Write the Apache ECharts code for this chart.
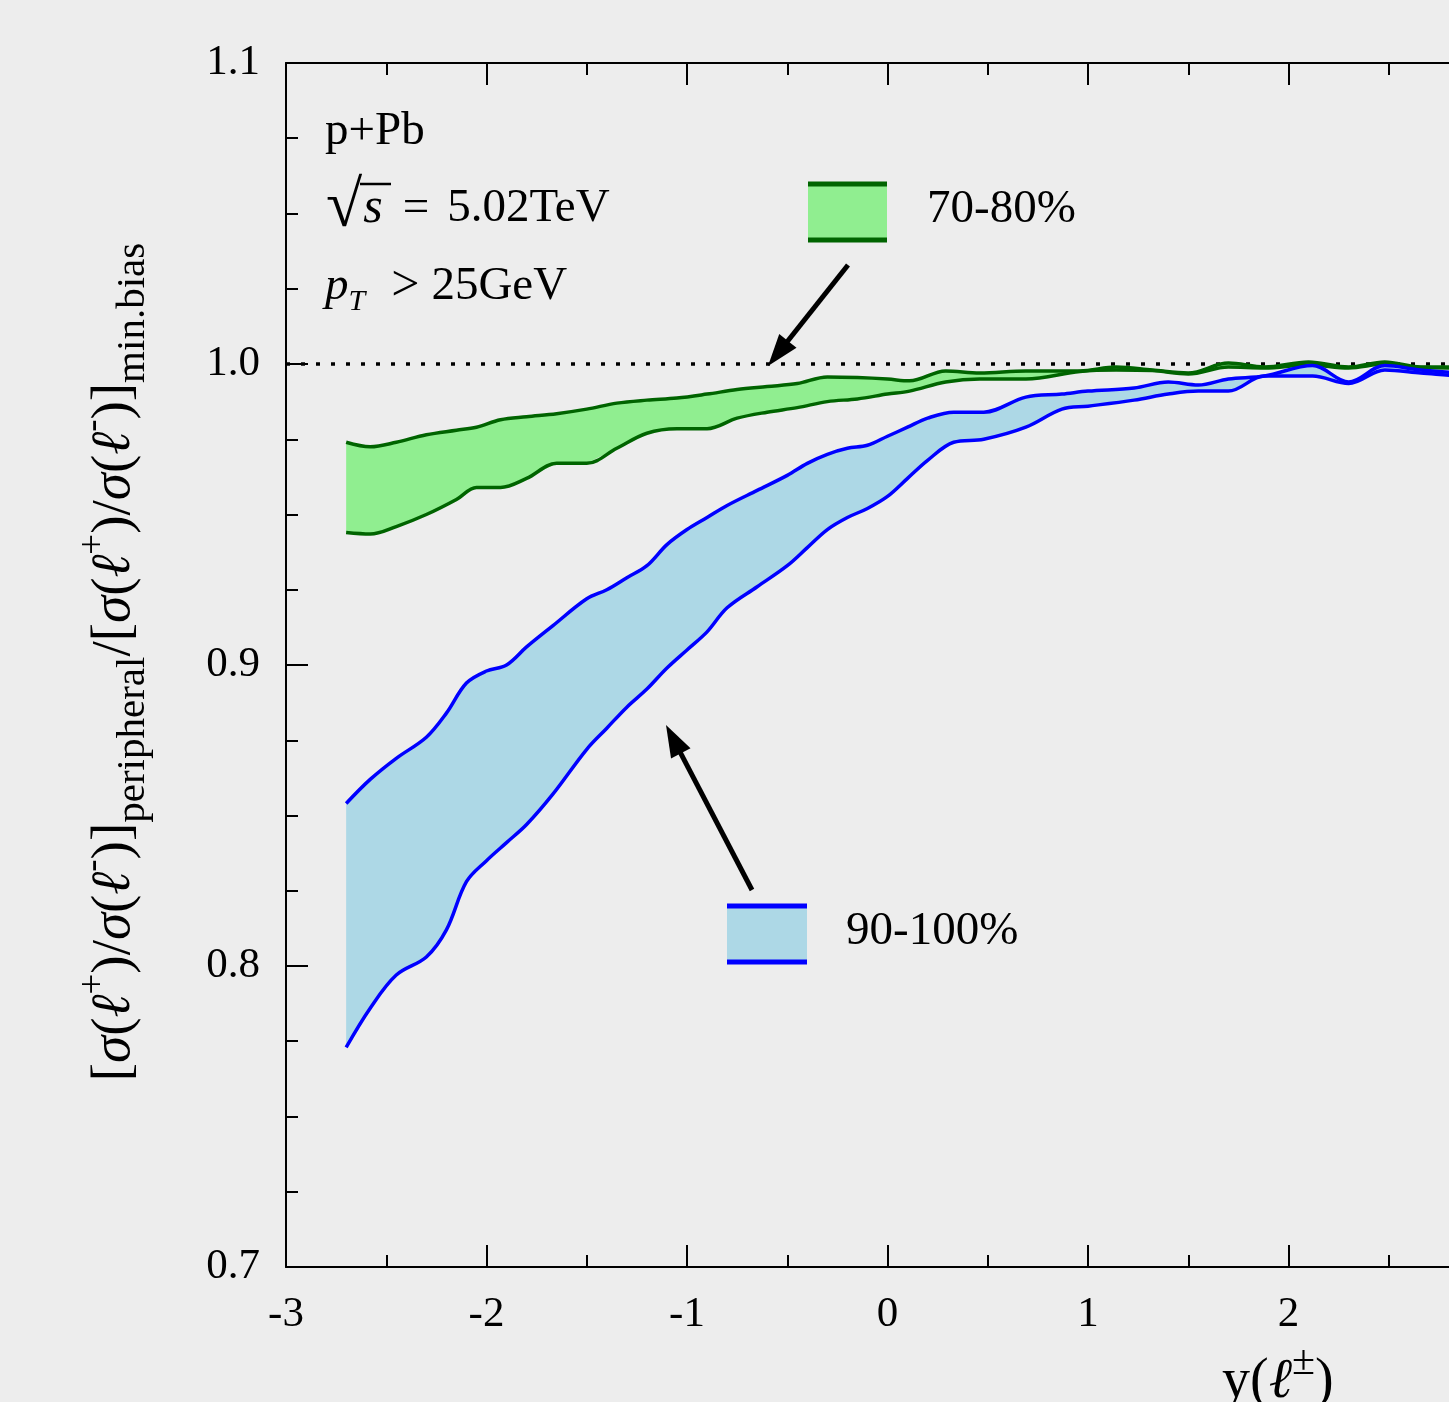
<!DOCTYPE html>
<html>
<head>
<meta charset="utf-8">
<script src="https://cdn.jsdelivr.net/npm/echarts@6/dist/echarts.min.js"></script>
<style>
html,body{margin:0;padding:0;background:#ededed;}
#chart{width:1449px;height:1402px;}
</style>
</head>
<body>
<div id="chart"></div>
<script>
// ---- data ----
const greenX = [-2.70,-2.58,-2.45,-2.30,-2.15,-2.05,-1.93,-1.80,-1.65,-1.50,-1.35,-1.20,-1.05,-0.90,-0.75,-0.60,-0.45,-0.30,-0.15,0.00,0.11,0.29,0.46,0.69,0.96,1.14,1.32,1.50,1.70,1.88,2.10,2.30,2.48,2.66,2.85,3.00];
const greenUpper = [0.974,0.9725,0.974,0.9765,0.978,0.979,0.9815,0.9825,0.9835,0.985,0.987,0.988,0.9887,0.990,0.9915,0.9925,0.9935,0.9957,0.9955,0.995,0.9944,0.9977,0.997,0.9977,0.9977,0.999,0.998,0.997,1.0003,0.999,1.0007,0.999,1.0007,0.999,0.999,0.999];
const greenLower = [0.944,0.9435,0.946,0.950,0.955,0.959,0.959,0.962,0.967,0.967,0.972,0.977,0.9785,0.9785,0.982,0.984,0.9855,0.9875,0.9884,0.990,0.991,0.994,0.995,0.995,0.9975,0.998,0.9978,0.9967,0.999,0.9987,0.9997,0.9987,1.000,0.9988,0.9987,0.9987];

const blueX = [-2.70,-2.58,-2.45,-2.30,-2.20,-2.10,-2.00,-1.90,-1.80,-1.67,-1.50,-1.40,-1.30,-1.20,-1.10,-1.00,-0.90,-0.80,-0.65,-0.50,-0.40,-0.30,-0.20,-0.10,0.00,0.10,0.20,0.33,0.48,0.69,0.87,1.00,1.23,1.40,1.55,1.70,1.88,2.12,2.30,2.48,2.66,2.85,3.00];
const blueUpper = [0.854,0.862,0.869,0.876,0.884,0.894,0.898,0.900,0.906,0.913,0.922,0.925,0.929,0.933,0.940,0.945,0.949,0.953,0.958,0.963,0.967,0.970,0.972,0.973,0.976,0.979,0.982,0.984,0.984,0.989,0.990,0.991,0.992,0.994,0.993,0.995,0.996,0.9995,0.994,0.9995,0.998,0.997,0.996];
const blueLower = [0.773,0.786,0.797,0.803,0.812,0.828,0.835,0.841,0.847,0.857,0.872,0.879,0.886,0.892,0.899,0.905,0.911,0.919,0.926,0.933,0.939,0.945,0.949,0.952,0.956,0.962,0.968,0.974,0.975,0.979,0.985,0.986,0.988,0.990,0.991,0.991,0.996,0.996,0.9935,0.998,0.997,0.996,0.995];

const xTicks = [-3,-2,-1,0,1,2,3];
const yTicks = ['0.7','0.8','0.9','1.0','1.1'];
const refLine = 1.0;
const band1Label = '70-80%';
const band2Label = '90-100%';

// ---- build ----
const SERIF = '"Liberation Serif","DejaVu Serif",serif';
const BG = '#ededed';
const pairs = (xs, ys) => xs.map((x, i) => [x, ys[i]]);

const chart = echarts.init(document.getElementById('chart'));

const axisCommonX = {
  type: 'value', min: -3, max: 3, interval: 1, z: 20,
  axisLine: {show: true, onZero: false, lineStyle: {color: '#000', width: 2}},
  axisTick: {show: true, inside: true, length: 22, lineStyle: {color: '#000', width: 2}},
  minorTick: {show: true, splitNumber: 2, length: 12, lineStyle: {color: '#000', width: 2}},
  splitLine: {show: false}
};
const axisCommonY = {
  type: 'value', min: 0.7, max: 1.1, interval: 0.1, z: 20,
  axisLine: {show: true, onZero: false, lineStyle: {color: '#000', width: 2}},
  axisTick: {show: true, inside: true, length: 22, lineStyle: {color: '#000', width: 2}},
  minorTick: {show: true, splitNumber: 4, length: 12, lineStyle: {color: '#000', width: 2}},
  splitLine: {show: false}
};

function arrow(x1, y1, x2, y2) {
  const dx = x2 - x1, dy = y2 - y1, L = Math.hypot(dx, dy);
  const ux = dx / L, uy = dy / L, px = -uy, py = ux;
  const hl = 32, hw = 11;
  const bx = x2 - ux * hl, by = y2 - uy * hl;
  return [
    {type: 'line', z: 100, shape: {x1: x1, y1: y1, x2: x2 - ux * (hl - 4), y2: y2 - uy * (hl - 4)}, style: {stroke: '#000', lineWidth: 5}},
    {type: 'polygon', z: 100, shape: {points: [[x2, y2], [bx + px * hw, by + py * hw], [bx - px * hw, by - py * hw]]}, style: {fill: '#000'}}
  ];
}

const richTitle = {
  m: {fontFamily: SERIF, fontSize: 55, lineHeight: 78, color: '#000'},
  i: {fontFamily: SERIF, fontSize: 55, lineHeight: 78, fontStyle: 'italic', color: '#000'},
  sup: {fontFamily: SERIF, fontSize: 37, lineHeight: 36, verticalAlign: 'top', color: '#000'},
  sub: {fontFamily: SERIF, fontSize: 41, lineHeight: 38, verticalAlign: 'bottom', color: '#000'}
};
const ratio = '{m|[}{i|σ}{m|(}{i|ℓ}{sup|+}{m|)/}{i|σ}{m|(}{i|ℓ}{sup|-}{m|)]}';
const yTitle = ratio + '{sub|peripheral}{m|/}' + ratio + '{sub|min.bias}';

// band fill: polygon from the upper values forward and the lower values backward
const bandFill = (name, xs, up, lo, fill) => ({
  name: name + ' band', type: 'custom', coordinateSystem: 'cartesian2d', silent: true, z: 1,
  data: [[xs[0], up[0]]],
  renderItem: (params, api) => {
    const top = xs.map((x, i) => api.coord([x, up[i]]));
    const bot = xs.map((x, i) => api.coord([x, lo[i]])).reverse();
    return {type: 'polygon', shape: {points: top.concat(bot)}, style: {fill: fill, stroke: null}};
  }
});
const edge = (name, xs, ys, color, extra) => Object.assign({
  name: name, type: 'line', smooth: 0.35, symbol: 'none', z: 3,
  data: pairs(xs, ys), lineStyle: {color: color, width: 3.5}
}, extra || {});

const option = {
  backgroundColor: BG,
  animation: false,
  grid: {left: 286, top: 63, right: -40, bottom: 135, containLabel: false, outerBoundsMode: 'none'},
  xAxis: [
    Object.assign({}, axisCommonX, {position: 'bottom',
      axisLabel: {show: true, margin: 26, color: '#000', fontFamily: SERIF, fontSize: 43,
        formatter: v => xTicks.includes(v) ? String(v) : ''}}),
    Object.assign({}, axisCommonX, {position: 'top', axisLabel: {show: false}})
  ],
  yAxis: [
    Object.assign({}, axisCommonY, {position: 'left',
      axisLabel: {show: true, margin: 26, color: '#000', fontFamily: SERIF, fontSize: 43,
        formatter: v => { const s = v.toFixed(1); return yTicks.includes(s) ? s : ''; }}}),
    Object.assign({}, axisCommonY, {position: 'right', axisLabel: {show: false}})
  ],
  series: [
    bandFill(band1Label, greenX, greenUpper, greenLower, '#90ee90'),
    edge(band1Label, greenX, greenUpper, '#006400', {
      markLine: {silent: true, symbol: 'none', label: {show: false}, z: 0,
        lineStyle: {color: '#000', type: [4, 11], width: 3.5},
        data: [{yAxis: refLine}]}}),
    edge(band1Label + ' lower', greenX, greenLower, '#006400'),
    Object.assign(bandFill(band2Label, blueX, blueUpper, blueLower, '#add8e6'), {z: 4}),
    edge(band2Label, blueX, blueUpper, '#0000ff', {z: 5}),
    edge(band2Label + ' lower', blueX, blueLower, '#0000ff', {z: 5})
  ],
  graphic: [
    // info text
    {type: 'text', z: 100, left: 325, top: 108, style: {text: 'p+Pb', font: '47px ' + SERIF, fill: '#000'}},
    {type: 'text', z: 100, left: 326, top: 176, style: {
      text: '{r|√}{i|s}{e|=}{m|5.02TeV}',
      rich: {r: {fontFamily: SERIF, fontSize: 66, color: '#000'},
             i: {fontFamily: SERIF, fontSize: 50, fontStyle: 'italic', color: '#000', padding: [0, 0, 0, 1]},
             e: {fontFamily: SERIF, fontSize: 47, color: '#000', padding: [0, 0, 0, 20]},
             m: {fontFamily: SERIF, fontSize: 47, color: '#000', padding: [0, 0, 0, 18]}}}},
    {type: 'line', z: 100, shape: {x1: 360, y1: 184, x2: 391, y2: 184}, style: {stroke: '#000', lineWidth: 2.5}},
    {type: 'text', z: 100, left: 325, top: 262, style: {
      text: '{i|p}{s|T}{g|>}{m|25GeV}',
      rich: {m: {fontFamily: SERIF, fontSize: 47, lineHeight: 60, color: '#000', padding: [0, 0, 0, 12]},
             g: {fontFamily: SERIF, fontSize: 50, lineHeight: 60, color: '#000', padding: [0, 0, 0, 26]},
             i: {fontFamily: SERIF, fontSize: 47, lineHeight: 60, fontStyle: 'italic', color: '#222'},
             s: {fontFamily: SERIF, fontSize: 30, lineHeight: 34, fontStyle: 'italic', verticalAlign: 'bottom', color: '#222'}}}},
    // legend band 1
    {type: 'rect', z: 100, shape: {x: 808, y: 184, width: 79, height: 56}, style: {fill: '#90ee90'}},
    {type: 'line', z: 100, shape: {x1: 808, y1: 184, x2: 887, y2: 184}, style: {stroke: '#006400', lineWidth: 5}},
    {type: 'line', z: 100, shape: {x1: 808, y1: 240, x2: 887, y2: 240}, style: {stroke: '#006400', lineWidth: 5}},
    {type: 'text', z: 100, left: 927, top: 186, style: {text: band1Label, font: '47px ' + SERIF, fill: '#000'}},
    // legend band 2
    {type: 'rect', z: 100, shape: {x: 727, y: 906, width: 80, height: 56}, style: {fill: '#add8e6'}},
    {type: 'line', z: 100, shape: {x1: 727, y1: 906, x2: 807, y2: 906}, style: {stroke: '#0000ff', lineWidth: 5}},
    {type: 'line', z: 100, shape: {x1: 727, y1: 962, x2: 807, y2: 962}, style: {stroke: '#0000ff', lineWidth: 5}},
    {type: 'text', z: 100, left: 846, top: 908, style: {text: band2Label, font: '47px ' + SERIF, fill: '#000'}},
    // arrows
    ...arrow(848, 265, 768, 366),
    ...arrow(752, 890, 666, 725),
    // axis titles
    {type: 'text', z: 100, x: 115, y: 662, rotation: Math.PI / 2, style: {
      text: yTitle, rich: richTitle, align: 'center', verticalAlign: 'middle'}},
    {type: 'text', z: 100, left: 1222, top: 1342, style: {
      text: '{m|y(}{i|ℓ}{sup|±}{m|)}',
      rich: {m: {fontFamily: SERIF, fontSize: 56, lineHeight: 80, color: '#000'},
             i: {fontFamily: SERIF, fontSize: 56, lineHeight: 80, fontStyle: 'italic', color: '#000'},
             sup: {fontFamily: SERIF, fontSize: 42, lineHeight: 40, verticalAlign: 'top', color: '#000'}}}}
  ]
};
chart.setOption(option);
</script>
</body>
</html>
